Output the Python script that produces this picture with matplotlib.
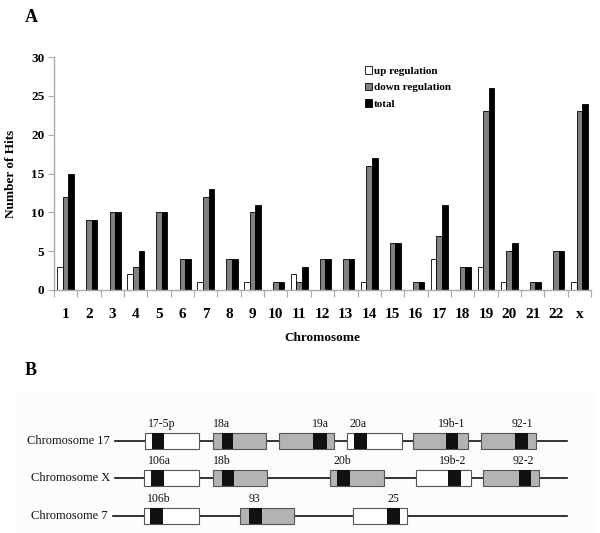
import matplotlib
matplotlib.use("Agg")
import matplotlib.pyplot as plt
from matplotlib.patches import Rectangle
import numpy as np

# ---------------- Panel A data ----------------
chromosomes = ["1", "2", "3", "4", "5", "6", "7", "8", "9", "10", "11", "12",
               "13", "14", "15", "16", "17", "18", "19", "20", "21", "22", "x"]
up_regulation = [3, 0, 0, 2, 0, 0, 1, 0, 1, 0, 2, 0, 0, 1, 0, 0, 4, 0, 3, 1, 0, 0, 1]
down_regulation = [12, 9, 10, 3, 10, 4, 12, 4, 10, 1, 1, 4, 4, 16, 6, 1, 7, 3, 23, 5, 1, 5, 23]
total = [15, 9, 10, 5, 10, 4, 13, 4, 11, 1, 3, 4, 4, 17, 6, 1, 11, 3, 26, 6, 1, 5, 24]
series_names = ["up regulation", "down regulation", "total"]
yticks = [0, 5, 10, 15, 20, 25, 30]

# ---------------- Panel B data ----------------
row_names = ["Chromosome 17", "Chromosome X", "Chromosome 7"]
row_y = [441, 478, 516]
line_start = [115, 115, 113]
line_end = [567, 567, 567]
# genes: (row, label, box start, box end, band start, band end, fill)
gene_row = [0, 0, 0, 0, 0, 0, 1, 1, 1, 1, 1, 2, 2, 2]
gene_label = ["17-5p", "18a", "19a", "20a", "19b-1", "92-1",
              "106a", "18b", "20b", "19b-2", "92-2",
              "106b", "93", "25"]
gene_x0 = [145, 213, 279, 347, 413, 481, 144, 213, 330, 416, 483, 144, 240, 353]
gene_x1 = [199, 266, 334, 402, 468, 536, 199, 267, 384, 471, 539, 199, 294, 407]
band_x0 = [152, 222, 313, 354, 446, 515, 151, 222, 337, 448, 519, 150, 249, 387]
band_x1 = [164, 233, 327, 367, 458, 528, 164, 234, 350, 461, 531, 163, 262, 400]
gene_fill = ["white", "grey", "grey", "white", "grey", "grey",
             "white", "grey", "grey", "white", "grey",
             "white", "grey", "white"]
label_x = [148, 213, 312, 350, 438, 512, 148, 213, 333, 439, 513, 147, 249, 388]

SERIF = ["Liberation Serif", "DejaVu Serif"]
W, H = 600, 533
fig = plt.figure(figsize=(6.0, 5.33), dpi=100)

# ---------- Panel B background (drawn in pixel coords) ----------
axb = fig.add_axes([0, 0, 1, 1])
axb.set_xlim(0, W)
axb.set_ylim(H, 0)
axb.axis("off")
axb.add_patch(Rectangle((17, 392), 578, 141, facecolor="#fcfcfc", edgecolor="none", zorder=0))
fills = {"white": "white", "grey": "#b3b3b3"}
for r, name in enumerate(row_names):
    y = row_y[r]
    axb.plot([line_start[r], line_end[r]], [y, y], color="#111111", lw=1.2, zorder=1)
    axb.text(line_start[r] - 5, y, name, ha="right", va="center", family=SERIF,
             fontsize=9, color="#111111")
bh = 16
for i in range(len(gene_label)):
    y = row_y[gene_row[i]]
    axb.add_patch(Rectangle((gene_x0[i], y - bh / 2), gene_x1[i] - gene_x0[i], bh,
                            facecolor=fills[gene_fill[i]], edgecolor="#555555", lw=0.8, zorder=2))
    axb.add_patch(Rectangle((band_x0[i], y - bh / 2), band_x1[i] - band_x0[i], bh,
                            facecolor="#111111", edgecolor="none", zorder=3))
    axb.text(label_x[i], y - bh / 2 - 3, gene_label[i], ha="left", va="bottom",
             family=SERIF, fontsize=8.5, color="#111111")
axb.text(25, 375, "B", ha="left", va="baseline", family=SERIF, fontsize=13,
         fontweight="bold")
axb.text(25, 22, "A", ha="left", va="baseline", family=SERIF, fontsize=13,
         fontweight="bold")

# ---------- Panel A ----------
left, right = 54, 591
top, bottom = 57, 290
ax = fig.add_axes([left / W, 1 - bottom / H, (right - left) / W, (bottom - top) / H])
ax.patch.set_alpha(0)
x = np.arange(len(chromosomes))
bw = 0.24
b1 = ax.bar(x - bw, up_regulation, bw, color="white", edgecolor="black", lw=0.6,
            label=series_names[0])
b2 = ax.bar(x, down_regulation, bw, color="#808080", edgecolor="black", lw=0.6,
            label=series_names[1])
b3 = ax.bar(x + bw, total, bw, color="black", edgecolor="black", lw=0.6,
            label=series_names[2])
ax.set_xlim(-0.5, len(chromosomes) - 0.5)
ax.set_ylim(0, 30)
ax.set_yticks(yticks)
ax.set_yticklabels([str(v) for v in yticks], family=SERIF, fontweight="bold", fontsize=9.5)
ax.set_xticks(np.arange(len(chromosomes) + 1) - 0.5)
ax.set_xticklabels([])
ax.set_xticks(x, minor=True)
ax.set_xticklabels(chromosomes, minor=True, family=SERIF, fontweight="bold", fontsize=11)
ax.tick_params(axis="x", which="minor", length=0, pad=13)
ax.tick_params(axis="x", which="major", length=5, color="#aaaaaa", width=0.8)
ax.tick_params(axis="y", length=4, color="#aaaaaa", width=0.8, pad=3)
for s in ["top", "right"]:
    ax.spines[s].set_visible(False)
for s in ["left", "bottom"]:
    ax.spines[s].set_color("#aaaaaa")
    ax.spines[s].set_linewidth(1.0)
ax.set_ylabel("Number of Hits", family=SERIF, fontweight="bold", fontsize=9.5, labelpad=10)
ax.set_xlabel("Chromosome", family=SERIF, fontweight="bold", fontsize=9.5, labelpad=8)
leg = ax.legend(handles=[b1, b2, b3], loc="upper left",
                bbox_to_anchor=(365 / W, 1 - 66 / H), bbox_transform=fig.transFigure,
                frameon=False, handlelength=0.6, handleheight=0.7, handletextpad=0.2,
                labelspacing=0.62, borderaxespad=0, borderpad=0,
                prop={"family": SERIF, "weight": "bold", "size": 8})

fig.savefig("out.png", dpi=100)
